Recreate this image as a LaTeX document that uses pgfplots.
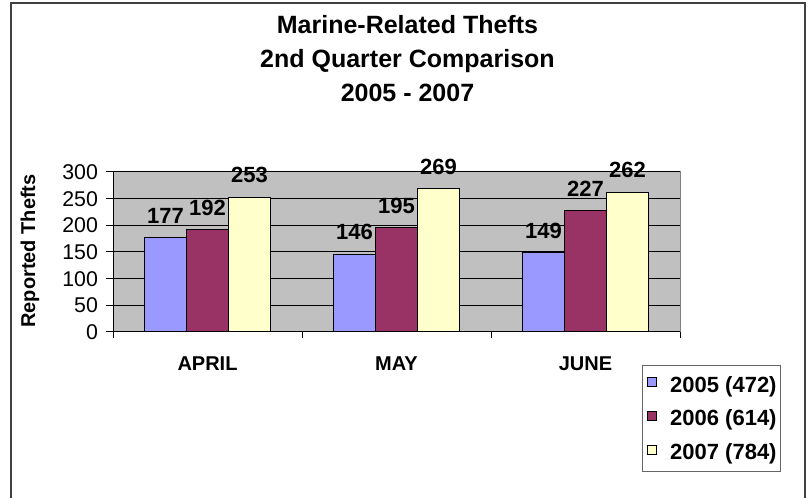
\documentclass[border=0pt]{standalone}
\usepackage{fontspec}
\setmainfont{Liberation Sans}
\usepackage{pgfplots}
\pgfplotsset{compat=1.18}
\definecolor{c05}{HTML}{9999FF}
\definecolor{c06}{HTML}{993366}
\definecolor{c07}{HTML}{FFFFCC}
\definecolor{plotbg}{HTML}{C0C0C0}
\pgfplotsset{sqlegend/.style={legend image code/.code={%
  \path[draw=none, fill=none] (0pt,2pt) rectangle (17.75pt,3pt);
  \draw[#1, draw=black, line width=0.75pt] (3pt,-1.4pt) rectangle (9.8pt,5.4pt);}}}
\begin{document}
\begin{tikzpicture}
\useasboundingbox (0,0) rectangle (609pt,373.5pt);
\fill[white] (0,0) rectangle (609pt,373.5pt);
\draw[black!75, line width=1.1pt] (8.25pt,-10pt) -- (8.25pt,371.25pt) -- (603.75pt,371.25pt) -- (603.75pt,-10pt);
\node[anchor=base, font=\fontsize{18.75}{22}\selectfont\bfseries] at (305.6pt,348.4pt) {Marine-Related Thefts};
\node[anchor=base, font=\fontsize{18.75}{22}\selectfont\bfseries] at (305.6pt,322.9pt) {2nd Quarter Comparison};
\node[anchor=base, font=\fontsize{18.75}{22}\selectfont\bfseries] at (305.6pt,297.4pt) {2005 - 2007};
\node[rotate=90, anchor=base, font=\fontsize{15}{18}\selectfont\bfseries] at (26.25pt,185.25pt) {Reported Thefts};
\begin{axis}[
  at={(84.75pt,124.5pt)}, anchor=south west,
  width=425.25pt, height=120pt, scale only axis,
  xmin=-0.5, xmax=2.5, ymin=0, ymax=300,
  clip=false,
  axis lines=left, axis line style={-, black, line width=0.75pt},
  axis background/.style={fill=plotbg, draw=black!50, line width=0.75pt},
  ybar=0pt, bar width=31.5pt,
  xtick={0,1,2}, xticklabels={APRIL,MAY,JUNE},
  minor xtick={-0.5,0.5,1.5,2.5},
  ytick={0,50,...,300},
  tick align=outside,
  major tick length=5.25pt, minor tick length=4.5pt,
  tick style={black, line width=0.75pt},
  major x tick style={draw=none},
  ymajorgrids, major grid style={black, line width=0.75pt},
  /pgf/number format/assume math mode=true,
  yticklabel style={font=\fontsize{16}{19}\selectfont, xshift=-2.5pt},
  xticklabel style={font=\fontsize{15}{18}\selectfont\bfseries, anchor=base, yshift=-23.75pt},
  nodes near coords,
  every node near coord/.append style={font=\fontsize{16.5}{19}\selectfont\bfseries, inner sep=0pt, yshift=10.2pt, black},
  legend style={at={(axis description cs:0.933,-0.206)}, anchor=north west,
    draw=black!60, line width=0.75pt, font=\fontsize{16.5}{19}\selectfont\bfseries,
    inner xsep=1pt, inner ysep=6pt, row sep=7.75pt},
  legend cell align=left,
]
\addplot[fill=c05, draw=black, line width=0.75pt, sqlegend] coordinates {(0,177) (1,146) (2,149)};
\addplot[fill=c06, draw=black, line width=0.75pt, sqlegend] coordinates {(0,192) (1,195) (2,227)};
\addplot[fill=c07, draw=black, line width=0.75pt, sqlegend] coordinates {(0,253) (1,269) (2,262)};
\legend{2005 (472),2006 (614),2007 (784)}
\end{axis}
\end{tikzpicture}
\end{document}
